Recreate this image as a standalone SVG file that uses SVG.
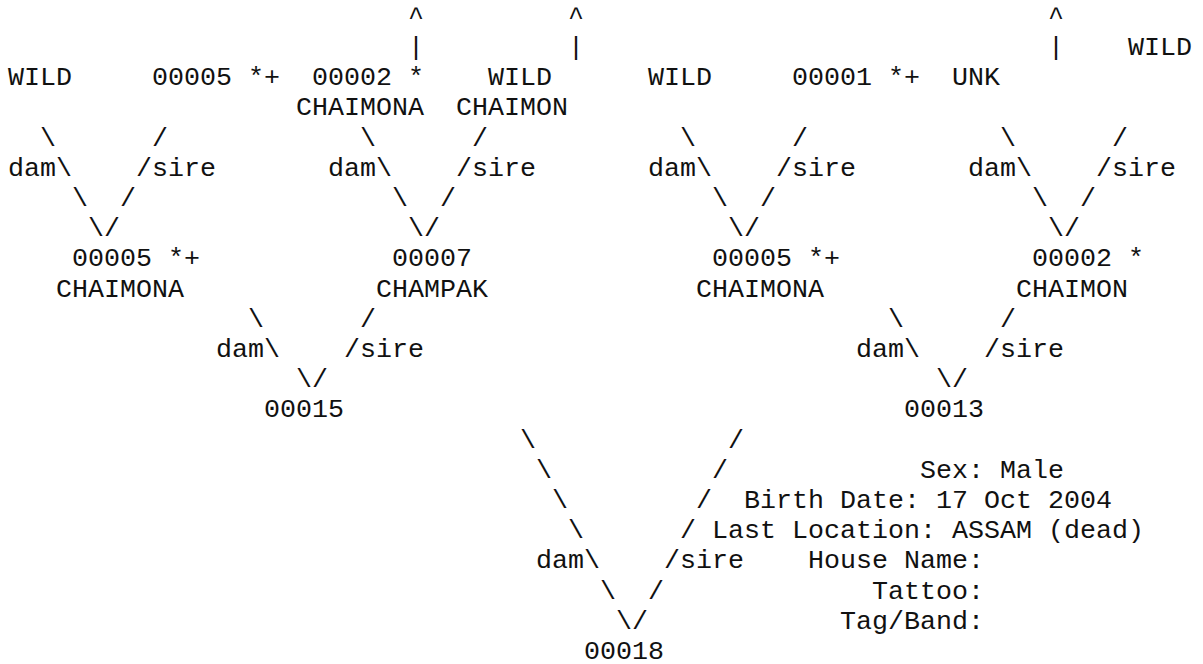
<svg xmlns="http://www.w3.org/2000/svg" width="1203" height="664" viewBox="0 0 1203 664">
  <style>
    text { font-family: "Liberation Mono", "DejaVu Sans Mono", monospace; font-size: 26.667px; fill: #111; white-space: pre; }
  </style>
  <rect width="1203" height="664" fill="#fff"/>

  <!-- grid: column x = 8 + 16*col, row baseline y = 24.8 + 30.2*row -->

  <g id="connectors">
    <!-- carets above the top generation -->
    <text x="408" y="24.8">^</text>
    <text x="568" y="24.8">^</text>
    <text x="1048" y="24.8">^</text>
    <text x="408" y="55">|</text>
    <text x="568" y="55">|</text>
    <text x="1048" y="55">|</text>

    <!-- generation 3 -> 2 -->
    <text x="40" y="145.6">\</text><text x="152" y="145.6">/</text>
    <text x="8" y="175.8">dam\</text><text x="136" y="175.8">/sire</text>
    <text x="72" y="206">\</text><text x="120" y="206">/</text>
    <text x="88" y="236.2">\/</text>

    <text x="360" y="145.6">\</text><text x="472" y="145.6">/</text>
    <text x="328" y="175.8">dam\</text><text x="456" y="175.8">/sire</text>
    <text x="392" y="206">\</text><text x="440" y="206">/</text>
    <text x="408" y="236.2">\/</text>

    <text x="680" y="145.6">\</text><text x="792" y="145.6">/</text>
    <text x="648" y="175.8">dam\</text><text x="776" y="175.8">/sire</text>
    <text x="712" y="206">\</text><text x="760" y="206">/</text>
    <text x="728" y="236.2">\/</text>

    <text x="1000" y="145.6">\</text><text x="1112" y="145.6">/</text>
    <text x="968" y="175.8">dam\</text><text x="1096" y="175.8">/sire</text>
    <text x="1032" y="206">\</text><text x="1080" y="206">/</text>
    <text x="1048" y="236.2">\/</text>

    <!-- generation 2 -> 1 -->
    <text x="248" y="326.8">\</text><text x="360" y="326.8">/</text>
    <text x="216" y="357">dam\</text><text x="344" y="357">/sire</text>
    <text x="296" y="387.2">\/</text>

    <text x="888" y="326.8">\</text><text x="1000" y="326.8">/</text>
    <text x="856" y="357">dam\</text><text x="984" y="357">/sire</text>
    <text x="936" y="387.2">\/</text>

    <!-- generation 1 -> subject -->
    <text x="520" y="447.6">\</text><text x="728" y="447.6">/</text>
    <text x="536" y="477.8">\</text><text x="712" y="477.8">/</text>
    <text x="552" y="508">\</text><text x="696" y="508">/</text>
    <text x="568" y="538.2">\</text><text x="680" y="538.2">/</text>
    <text x="536" y="568.4">dam\</text><text x="664" y="568.4">/sire</text>
    <text x="600" y="598.6">\</text><text x="648" y="598.6">/</text>
    <text x="616" y="628.8">\/</text>
  </g>

  <!-- generation 3 -->
  <g id="n-wild-a"><text x="8" y="85.2">WILD</text></g>
  <g id="n-00005-a"><text x="152" y="85.2">00005 *+</text></g>
  <g id="n-00002-a"><text x="312" y="85.2">00002 *</text><text x="296" y="115.4">CHAIMONA</text></g>
  <g id="n-wild-b"><text x="488" y="85.2">WILD</text><text x="456" y="115.4">CHAIMON</text></g>
  <g id="n-wild-c"><text x="648" y="85.2">WILD</text></g>
  <g id="n-00001"><text x="792" y="85.2">00001 *+</text></g>
  <g id="n-unk"><text x="952" y="85.2">UNK</text></g>
  <g id="n-wild-d"><text x="1128" y="55">WILD</text></g>

  <!-- generation 2 -->
  <g id="n-00005-b"><text x="72" y="266.4">00005 *+</text><text x="56" y="296.6">CHAIMONA</text></g>
  <g id="n-00007"><text x="392" y="266.4">00007</text><text x="376" y="296.6">CHAMPAK</text></g>
  <g id="n-00005-c"><text x="712" y="266.4">00005 *+</text><text x="696" y="296.6">CHAIMONA</text></g>
  <g id="n-00002-b"><text x="1032" y="266.4">00002 *</text><text x="1016" y="296.6">CHAIMON</text></g>

  <!-- generation 1 -->
  <g id="n-00015"><text x="264" y="417.4">00015</text></g>
  <g id="n-00013"><text x="904" y="417.4">00013</text></g>

  <!-- subject -->
  <g id="n-00018">
    <text x="584" y="659">00018</text>
  </g>
  <g id="details">
    <text x="920" y="477.8">Sex: Male</text>
    <text x="744" y="508">Birth Date: 17 Oct 2004</text>
    <text x="712" y="538.2">Last Location: ASSAM (dead)</text>
    <text x="808" y="568.4">House Name:</text>
    <text x="872" y="598.6">Tattoo:</text>
    <text x="840" y="628.8">Tag/Band:</text>
  </g>
</svg>
